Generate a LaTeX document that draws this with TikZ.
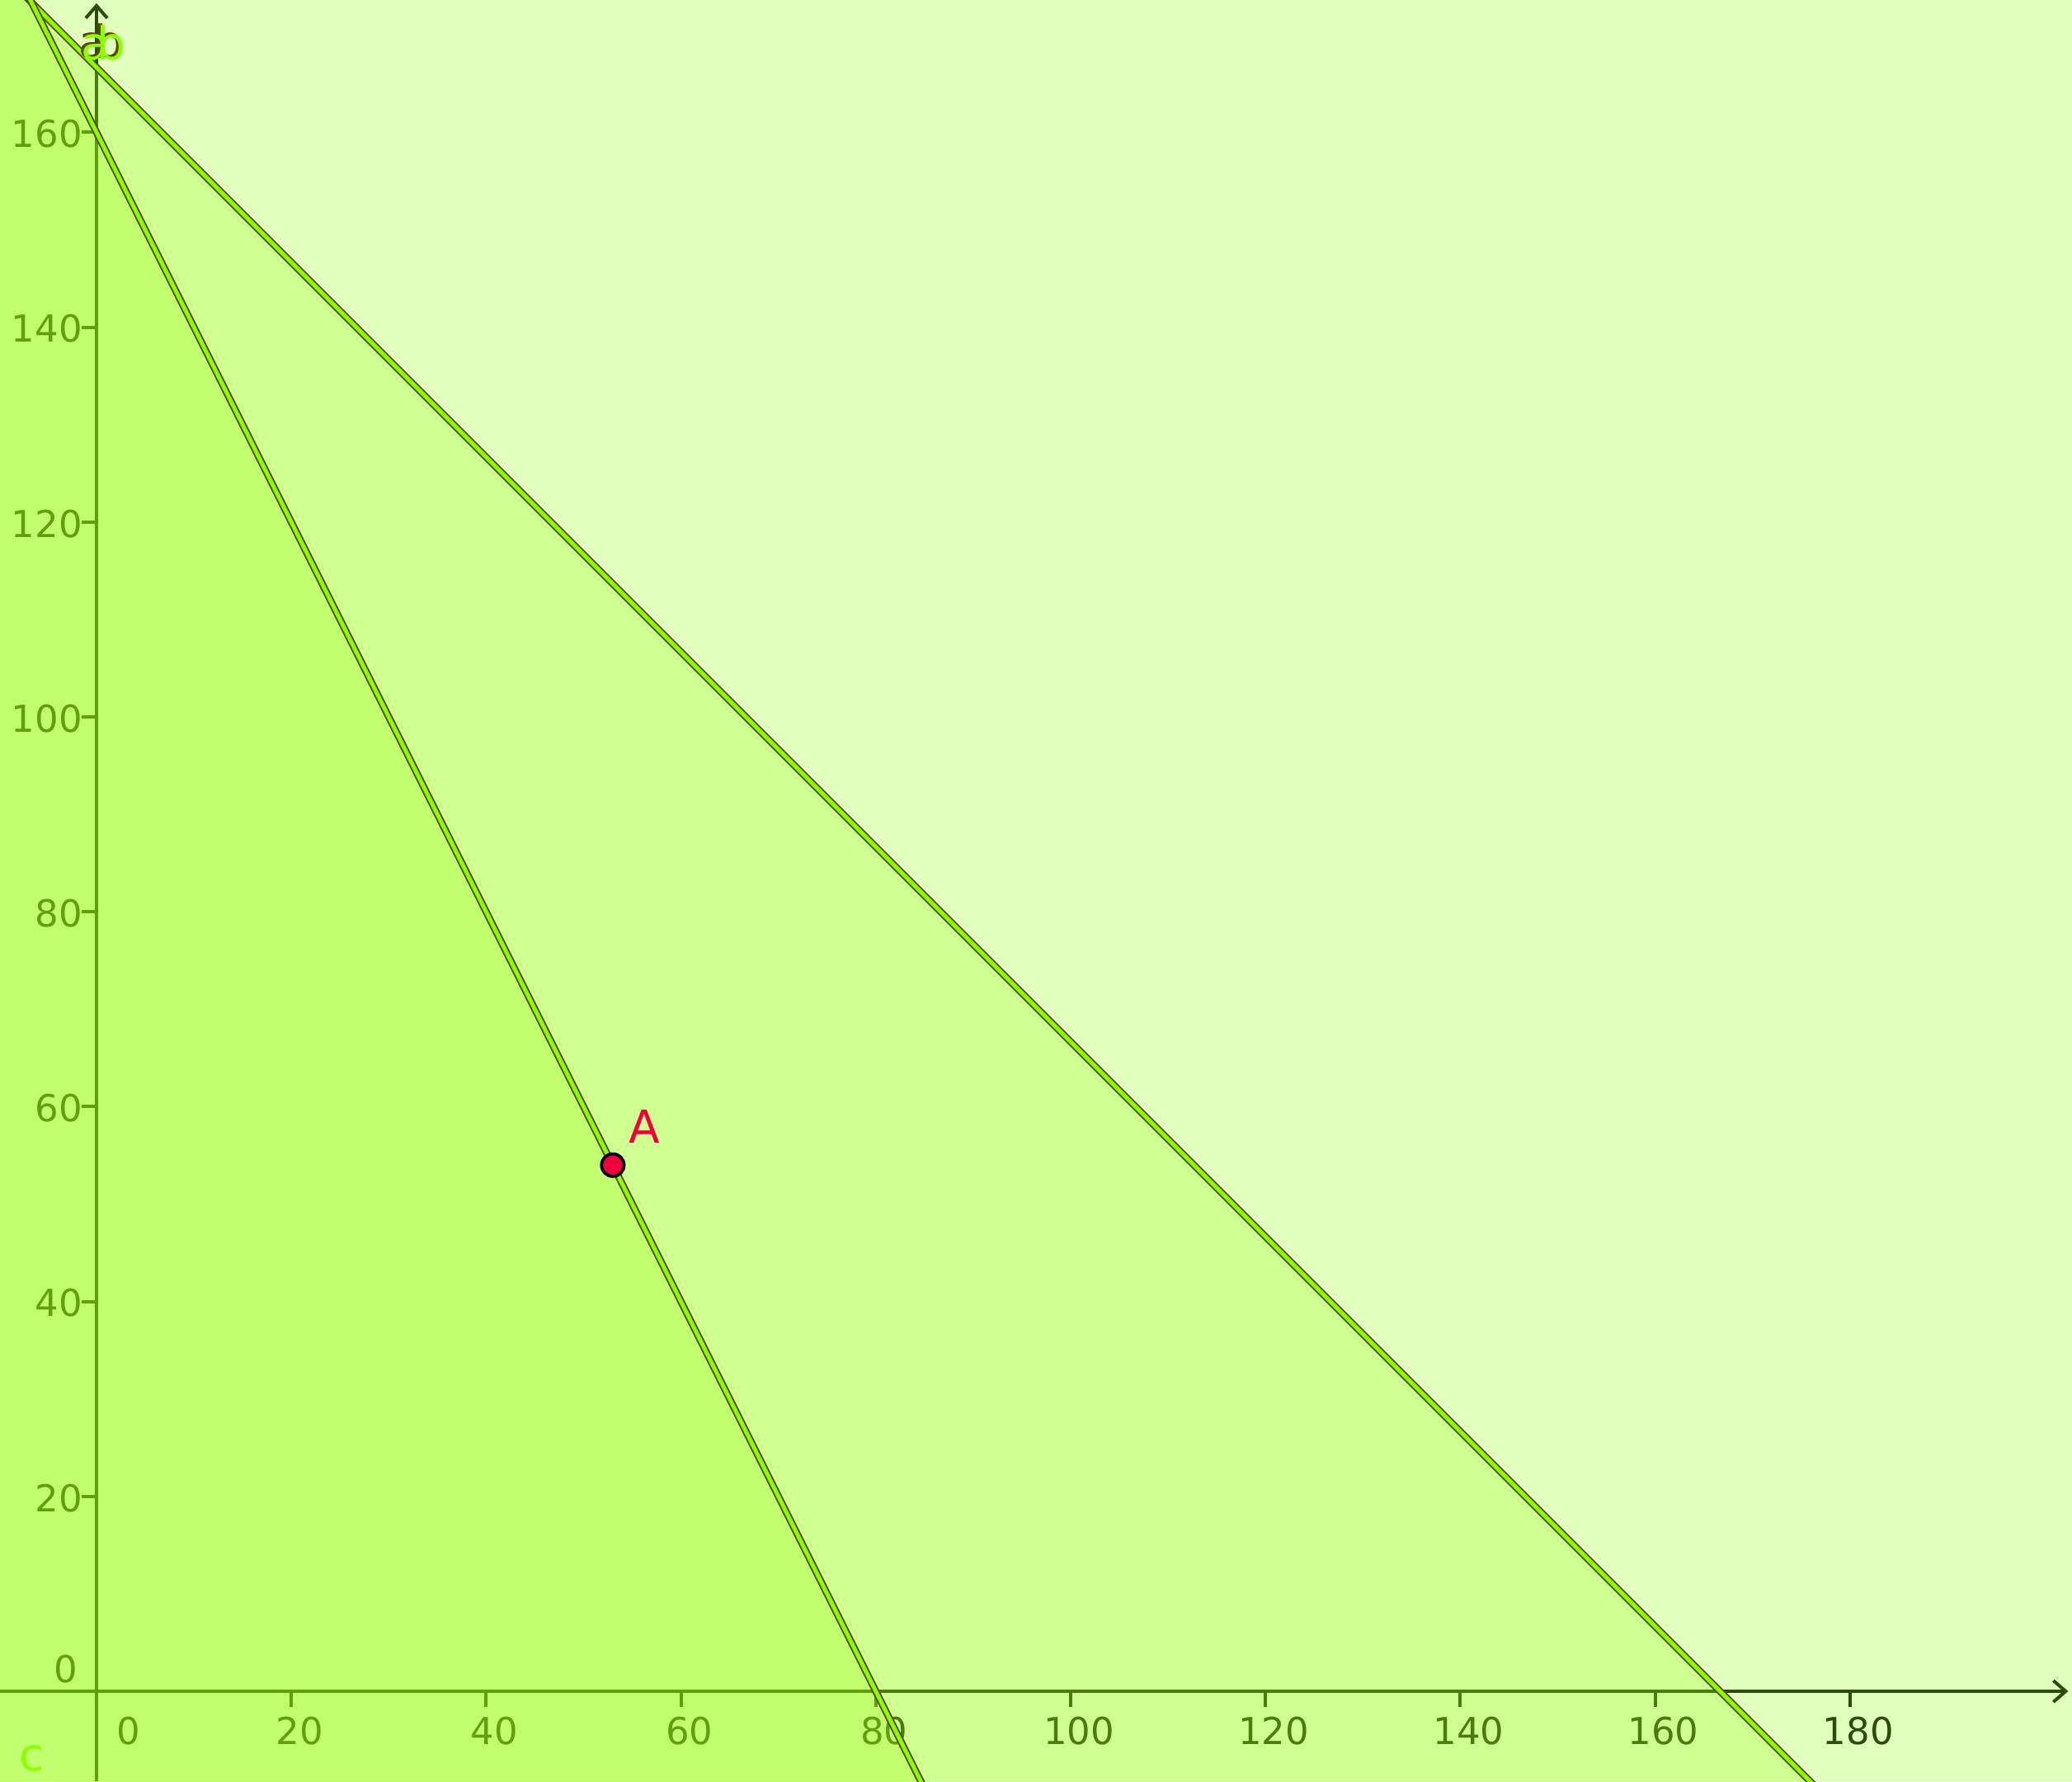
\documentclass[tikz,border=0pt]{standalone}
\usepackage{fontspec}
\setmainfont{DejaVu Sans}
\usetikzlibrary{arrows.meta}
\definecolor{fillc}{RGB}{155,255,22}
\definecolor{axisc}{RGB}{6,10,4}
\definecolor{linecore}{RGB}{140,255,0}
\definecolor{lineedge}{RGB}{90,70,0}
\definecolor{labshadow}{RGB}{95,65,0}
\definecolor{ptred}{RGB}{240,0,60}
\begin{document}
\begin{tikzpicture}[x=3.543pt,y=3.543pt,
  axis/.style={line width=1.2pt, draw=axisc},
  ticklab/.style={font=\fontsize{13.5}{16}\selectfont, text=axisc, inner sep=0pt},
  layer/.style={fill=fillc, fill opacity=0.27},
  lineedge/.style={line width=2.6pt, draw=lineedge},
  linecoreS/.style={line width=1.5pt, draw=linecore},
  objlab/.style={font=\fontsize{16.5}{20}\selectfont, inner sep=0pt, anchor=base west}]
\useasboundingbox (-9.907,-9.23) rectangle (202.79,173.58);
\fill[white] (-9.907,-9.23) rectangle (202.79,173.58);
\clip (-9.907,-9.23) rectangle (202.79,173.58);
% axes
\coordinate (xs) at (-9.907,0);
\coordinate (xe) at (202.4,0);
\coordinate (ys) at (0,-9.23);
\coordinate (ye) at (0,173.25);
\draw[axis, -{Straight Barb[length=4.5pt,width=7.8pt]}] (xs) -- (xe);
\draw[axis, -{Straight Barb[length=4.5pt,width=7.8pt]}] (ys) -- (ye);
\foreach \x in {20,40,...,180} {
  \draw[axis] (\x,0) -- (\x,-1.6);
  \node[ticklab, anchor=base] (xl\x) at (\x+0.85,-5.42) {\x};
}
\foreach \y in {20,40,...,160} {
  \draw[axis] (0,\y) -- (-1.52,\y);
  \node[ticklab, anchor=base east] (yl\y) at (-1.4,\y-1.55) {\y};
}
\node[ticklab, anchor=base east] (yl0) at (-1.9,0.85) {0};
\node[ticklab, anchor=base] (xl0) at (3.3,-5.42) {0};
% shaded half-planes
\fill[layer] (-9.907,-9.23) rectangle (202.79,173.58);
\fill[layer] (-20,-20) -- (186.667,-20) -- (-20,186.667) -- cycle;
\fill[layer] (-20,-20) -- (90,-20) -- (-20,200) -- cycle;
% boundary lines
\coordinate (a1) at (-20,186.667);
\coordinate (a2) at (186.667,-20);
\coordinate (b1) at (-20,200);
\coordinate (b2) at (90,-20);
\draw[lineedge] (a1) -- (a2);
\draw[linecoreS] (a1) -- (a2);
\draw[lineedge] (b1) -- (b2);
\draw[linecoreS] (b1) -- (b2);
% labels a, b, c
\node[objlab, text=labshadow] (as) at (-1.85,167.65) {a};
\node[objlab, text=labshadow] (bs) at (-0.25,167.65) {b};
\node[objlab, text=linecore] (al) at (-1.6,167.4) {a};
\node[objlab, text=linecore] (bl) at (0.0,167.4) {b};
\node[objlab, text=linecore] (cl) at (-8.0,-8.13) {c};
% point A
\node[circle, fill=ptred, draw=black, line width=1.1pt, minimum size=8.2pt, inner sep=0pt] (A) at (53,54) {};
\node[objlab, text=ptred] (Al) at (54.6,56.3) {A};
\end{tikzpicture}
\end{document}
